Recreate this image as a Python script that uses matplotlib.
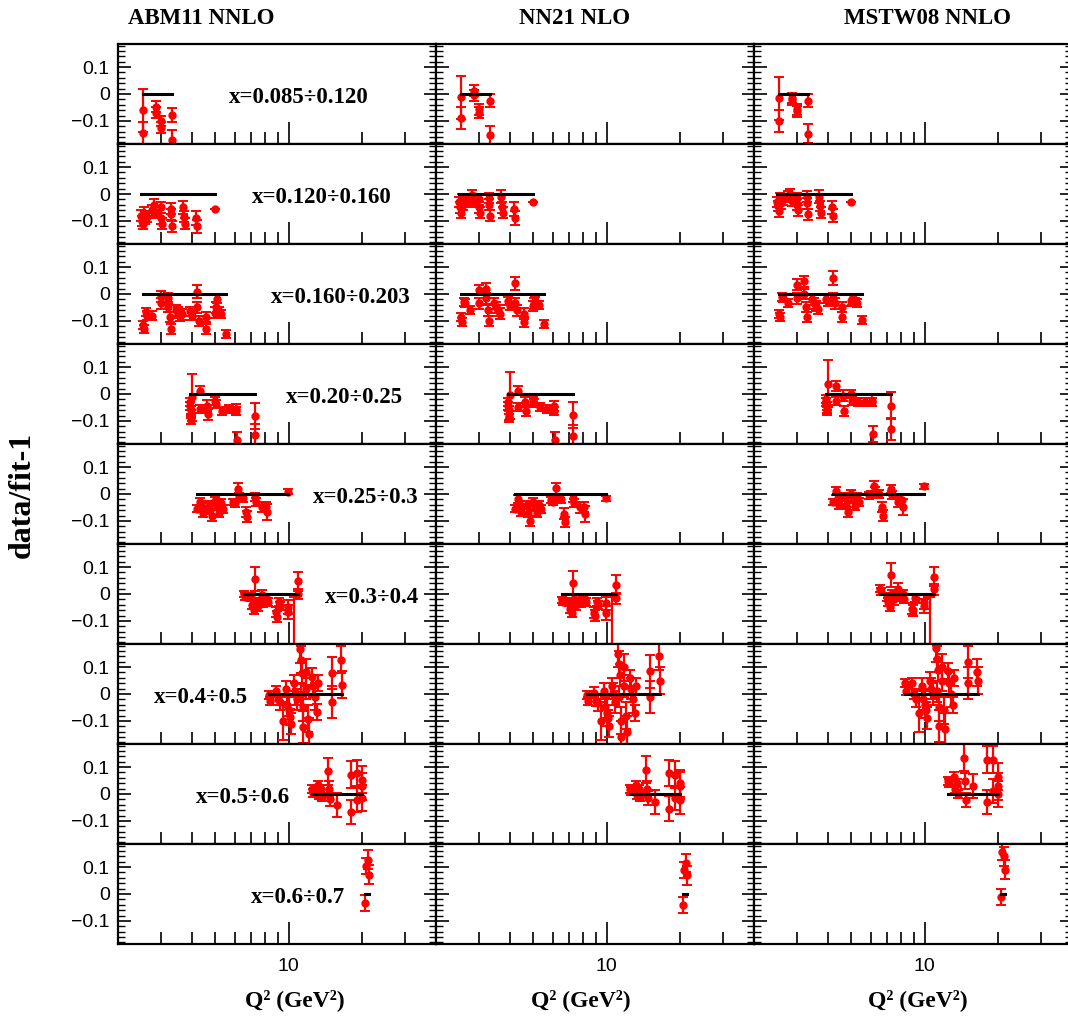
import matplotlib
matplotlib.use("Agg")
import matplotlib.pyplot as plt
from matplotlib.ticker import FixedLocator, FixedFormatter, MultipleLocator, NullFormatter


# column titles and x bins
pdf_sets = ["ABM11 NNLO", "NN21 NLO", "MSTW08 NNLO"]
x_bins = ["x=0.085÷0.120", "x=0.120÷0.160", "x=0.160÷0.203", "x=0.20÷0.25",
          "x=0.25÷0.3", "x=0.3÷0.4", "x=0.4÷0.5", "x=0.5÷0.6", "x=0.6÷0.7"]

# bin 1
q2_1 = [2.52, 2.52, 2.87, 2.87, 3.0, 3.0, 3.32, 3.32]
err_1 = [0.08, 0.04, 0.02, 0.02, 0.02, 0.02, 0.025, 0.035]
abm_1 = [-0.060, -0.145, -0.047, -0.069, -0.10, -0.125, -0.078, -0.17]
nn_1 = [-0.013, -0.09, 0.013, -0.005, -0.057, -0.069, -0.025, -0.153]
mstw_1 = [-0.015, -0.10, -0.015, -0.022, -0.057, -0.065, -0.025, -0.148]

# bin 2
q2_2 = [2.48, 2.50, 2.52, 2.55, 2.58, 2.62, 2.75, 2.80, 2.85, 2.99, 3.0, 3.02,
        3.28, 3.30, 3.34, 3.70, 3.72, 3.75, 4.18, 4.2, 4.99]
err_2 = [0.02, 0.02, 0.02, 0.02, 0.02, 0.02, 0.02, 0.02, 0.02, 0.02, 0.02, 0.02,
         0.02, 0.02, 0.02, 0.025, 0.02, 0.02, 0.025, 0.025, 0.0]
abm_2 = [-0.08, -0.10, -0.11, -0.07, -0.09, -0.085, -0.06, -0.04, -0.07, -0.05, -0.09, -0.11,
         -0.055, -0.075, -0.12, -0.05, -0.085, -0.11, -0.09, -0.12, -0.054]
nn_2 = [-0.03, -0.05, -0.07, -0.02, -0.04, -0.03, -0.02, -0.005, -0.03, -0.02, -0.05, -0.07,
        -0.015, -0.04, -0.08, -0.01, -0.05, -0.07, -0.055, -0.09, -0.03]
mstw_2 = [-0.03, -0.045, -0.065, -0.015, -0.035, -0.02, -0.01, 0.0, -0.025, -0.015, -0.04, -0.06,
          -0.01, -0.035, -0.075, -0.01, -0.045, -0.07, -0.05, -0.08, -0.03]

# bin 3
q2_3 = [2.54, 2.56, 2.60, 2.64, 2.75, 2.99, 3.0, 3.2, 3.21, 3.26, 3.3, 3.45, 3.52, 3.6,
        3.67, 3.95, 4.02, 4.19, 4.2, 4.3, 4.57, 4.6, 4.98, 5.03, 5.1, 5.2, 5.28, 5.55]
err_3 = [0.015, 0.015, 0.015, 0.015, 0.015,
         0.02, 0.02, 0.02, 0.02, 0.02, 0.02, 0.02, 0.02, 0.02, 0.02,
         0.015, 0.015, 0.025, 0.02, 0.02, 0.02, 0.02, 0.02, 0.02,
         0.015, 0.015, 0.015, 0.015]
abm_3 = [-0.117, -0.13, -0.067, -0.08, -0.08, -0.01, -0.035, -0.016, -0.048, -0.086, -0.13, -0.06, -0.07, -0.08,
         -0.075, -0.065, -0.08, 0.009, -0.05, -0.1, -0.086, -0.13, -0.07, -0.05, -0.02, -0.065, -0.075, -0.148]
nn_3 = [-0.086, -0.104, -0.03, -0.035, -0.06, 0.015, -0.035, 0.02, -0.016, -0.06, -0.1, -0.035, -0.05, -0.06,
        -0.073, -0.025, -0.045, 0.04, -0.035, -0.06, -0.073, -0.104, -0.045, -0.035, -0.025, -0.04, -0.04, -0.11]
mstw_3 = [-0.073, -0.086, -0.01, -0.016, -0.035, 0.034, -0.016, 0.047, 0.0, -0.048, -0.086, -0.02, -0.035, -0.045,
          -0.055, -0.02, -0.03, 0.06, -0.016, -0.035, -0.048, -0.086, -0.025, -0.02, -0.015, -0.03, -0.035, -0.098]

# bin 4
q2_4 = [3.93, 3.95, 3.96, 3.97, 3.98, 4.0, 4.33, 4.35, 4.62, 4.66, 5.0, 5.05, 5.31, 5.69,
        6.07, 6.1, 6.12, 7.25, 7.28]
err_4 = [0.015, 0.015, 0.015, 0.015, 0.015, 0.088, 0.018, 0.015, 0.02, 0.02, 0.015, 0.015, 0.015, 0.015,
         0.02, 0.015, 0.03, 0.05, 0.04]
abm_4 = [-0.03, -0.045, -0.06, -0.075, -0.095, -0.013, 0.013, -0.057, -0.044, -0.075, -0.025, -0.038, -0.063, -0.057,
         -0.057, -0.063, -0.17, -0.082, -0.151]
nn_4 = [-0.03, -0.045, -0.06, -0.08, -0.09, -0.005, 0.013, -0.05, -0.03, -0.063, -0.025, -0.035, -0.05, -0.057,
        -0.045, -0.063, -0.17, -0.078, -0.155]
mstw_4 = [-0.02, -0.03, -0.045, -0.055, -0.063, 0.038, 0.03, -0.025, -0.006, -0.063, 0.0, -0.025, -0.03, -0.03,
          -0.025, -0.03, -0.15, -0.044, -0.13]

# bin 5
q2_5 = [4.22, 4.35, 4.40, 4.45, 4.7, 4.75, 4.85, 5.0, 5.1, 5.2, 5.3, 5.4, 5.9, 6.0, 6.2, 6.25,
        6.5, 6.7, 6.75, 7.3, 7.35, 7.75, 8.05, 8.15, 9.94]
err_5 = [0.012, 0.015, 0.015, 0.015, 0.015, 0.015, 0.02, 0.015, 0.015, 0.015, 0.015, 0.015, 0.012, 0.012,
         0.02, 0.015, 0.015, 0.02, 0.02, 0.015, 0.015, 0.02, 0.02, 0.03, 0.01]
abm_5 = [-0.054, -0.03, -0.05, -0.07, -0.04, -0.06, -0.08, -0.025, -0.045, -0.07, -0.035, -0.055, -0.03, -0.035,
         0.02, -0.01, -0.015, -0.067, -0.085, -0.01, -0.03, -0.048, -0.048, -0.067, 0.009]
nn_5 = [-0.054, -0.02, -0.04, -0.067, -0.04, -0.07, -0.1, -0.03, -0.05, -0.07, -0.04, -0.055, -0.023, -0.03,
        0.021, -0.016, -0.02, -0.073, -0.104, -0.016, -0.035, -0.05, -0.048, -0.073, -0.016]
mstw_5 = [-0.03, 0.01, -0.015, -0.04, -0.01, -0.04, -0.067, 0.0, -0.02, -0.045, -0.01, -0.03, -0.005, 0.0,
          0.028, 0.01, 0.0, -0.048, -0.08, 0.02, -0.005, -0.03, -0.023, -0.048, 0.028]

# bin 6
q2_6 = [6.55, 6.6, 7.0, 7.1, 7.2, 7.3, 7.35, 7.5, 7.8, 7.85, 8.15, 8.2, 8.9, 8.95, 9.1, 9.2,
        9.9, 9.95, 10.5, 10.9, 10.95]
err_6 = [0.012, 0.012, 0.015, 0.015, 0.015, 0.045, 0.015, 0.02, 0.02, 0.015, 0.015, 0.015, 0.02, 0.02,
         0.015, 0.015, 0.025, 0.025, 0.29, 0.035, 0.02]
abm_6 = [0.0, -0.01, -0.01, -0.04, -0.06, 0.055, -0.03, -0.045, -0.004, -0.035, -0.02, -0.03, -0.067, -0.085,
         -0.03, -0.045, -0.048, -0.067, -0.3, 0.047, 0.0]
nn_6 = [-0.023, -0.03, -0.03, -0.055, -0.07, 0.04, -0.02, -0.04, -0.02, -0.035, -0.02, -0.03, -0.07, -0.08,
        -0.03, -0.04, -0.035, -0.07, -0.3, 0.034, -0.016]
mstw_6 = [0.02, 0.01, -0.01, -0.03, -0.05, 0.07, 0.0, -0.02, 0.02, -0.01, 0.0, -0.02, -0.054, -0.06,
          -0.015, -0.02, -0.03, -0.045, -0.3, 0.065, 0.018]

# bin 7
q2_7 = [8.3, 8.35, 8.9, 9.0, 9.2, 9.45, 9.7, 9.8, 10.0, 10.15, 10.2, 10.5, 10.6, 10.8, 11.1, 11.2, 11.25,
        11.3, 11.4, 11.45, 11.7, 11.8, 12.0, 12.1, 12.4, 12.6, 12.8, 13.0, 13.2, 15.0, 15.05, 16.4, 16.5]
err_7 = [0.015, 0.015, 0.02, 0.02, 0.03, 0.07, 0.03, 0.04, 0.05, 0.03, 0.04, 0.03, 0.04, 0.04, 0.05, 0.05, 0.04,
         0.04, 0.05, 0.06, 0.05, 0.04, 0.05, 0.06, 0.03, 0.04, 0.05, 0.03, 0.03, 0.06, 0.06, 0.05, 0.05]
abm_7 = [-0.005, -0.025, 0.01, -0.02, -0.03, -0.1, 0.02, -0.04, -0.06, -0.085, -0.11, 0.04, 0.0, -0.02, 0.166, 0.128, 0.0,
         0.078, -0.05, -0.123, 0.08, 0.02, -0.092, -0.148, 0.065, 0.03, -0.01, -0.067, 0.04, 0.078, -0.03, 0.128, 0.034]
nn_7 = [-0.005, -0.025, 0.005, -0.025, -0.035, -0.1, 0.01, -0.05, -0.07, -0.09, -0.12, 0.03, 0.0, -0.03, 0.15, 0.11, -0.01,
        0.07, -0.1, -0.16, 0.1, 0.03, -0.08, -0.14, 0.06, 0.02, -0.02, -0.07, 0.03, 0.084, -0.01, 0.14, 0.05]
mstw_7 = [0.04, 0.01, 0.04, 0.0, -0.02, -0.07, 0.03, -0.02, -0.04, -0.06, -0.09, 0.05, 0.02, 0.0, 0.17, 0.13, 0.01,
          0.09, -0.05, -0.12, 0.1, 0.05, -0.06, -0.13, 0.085, 0.04, 0.0, -0.04, 0.06, 0.12, 0.04, 0.08, 0.05]

# bin 8
q2_8 = [12.45, 12.5, 13.2, 13.3, 13.6, 13.7, 14.5, 14.6, 14.7, 15.75, 17.9, 18.0, 19.0, 19.05, 19.9, 19.95, 20.0]
err_8 = [0.015, 0.015, 0.015, 0.015, 0.015, 0.015, 0.05, 0.03, 0.025, 0.045, 0.05, 0.045, 0.05, 0.045, 0.05, 0.05, 0.05]
abm_8 = [0.02, 0.005, 0.035, -0.005, 0.02, -0.01, 0.084, 0.02, -0.02, -0.042, 0.072, -0.067, 0.078, -0.023, 0.053, 0.028, -0.015]
nn_8 = [0.02, 0.01, 0.035, -0.005, 0.02, -0.01, 0.09, 0.02, -0.015, -0.03, 0.078, -0.054, 0.072, -0.016, 0.04, 0.03, -0.023]
mstw_8 = [0.05, 0.04, 0.065, 0.02, 0.04, 0.0, 0.135, 0.047, -0.023, 0.03, 0.128, -0.03, 0.128, 0.01, 0.065, 0.028, 0.0]

# bin 9
q2_9 = [20.5, 20.6, 21.1, 21.2]
err_9 = [0.03, 0.03, 0.035, 0.035]
abm_9 = [-0.035, 0.103, 0.128, 0.072]
nn_9 = [-0.04, 0.09, 0.115, 0.07]
mstw_9 = [-0.01, 0.155, 0.14, 0.09]

q2_bins = [q2_1, q2_2, q2_3, q2_4, q2_5, q2_6, q2_7, q2_8, q2_9]
err_bins = [err_1, err_2, err_3, err_4, err_5, err_6, err_7, err_8, err_9]
ratios = [
    [abm_1, abm_2, abm_3, abm_4, abm_5, abm_6, abm_7, abm_8, abm_9],
    [nn_1, nn_2, nn_3, nn_4, nn_5, nn_6, nn_7, nn_8, nn_9],
    [mstw_1, mstw_2, mstw_3, mstw_4, mstw_5, mstw_6, mstw_7, mstw_8, mstw_9],
]

# where the bin labels sit (Q2 position in the left column)
label_q2 = [11.0, 13.6, 16.3, 16.9, 20.6, 21.8, 4.37, 6.49, 10.9]

serif = "Liberation Serif"
sans = "Liberation Sans"

W, H = 1068, 1028
fig = plt.figure(figsize=(W / 100, H / 100), dpi=100)

col_left = [118, 436, 754]
col_w = 318
row_top = 44
row_h = 100

for c in range(3):
    for r in range(9):
        y0 = row_top + r * row_h
        ax = fig.add_axes([col_left[c] / W, 1 - (y0 + row_h) / H, col_w / W, row_h / H])
        ax.set_xscale("log")
        ax.set_xlim(2, 40)
        ax.set_ylim(-0.186, 0.186)

        ax.errorbar(q2_bins[r], ratios[c][r], yerr=err_bins[r], fmt="o", color="red",
                    markersize=5, elinewidth=1.6, capsize=3.5, capthick=1.4, zorder=2)
        ax.plot([min(q2_bins[r]), max(q2_bins[r])], [0, 0], color="black", lw=2.2, zorder=3)

        for s in ax.spines.values():
            s.set_linewidth(1.6)

        ax.xaxis.set_major_locator(FixedLocator([10]))
        ax.xaxis.set_minor_locator(FixedLocator([3, 4, 5, 6, 7, 8, 9, 20, 30]))
        ax.xaxis.set_minor_formatter(NullFormatter())
        ax.yaxis.set_major_locator(FixedLocator([-0.1, 0, 0.1]))
        ax.yaxis.set_minor_locator(MultipleLocator(0.02))

        ax.tick_params(axis="x", which="major", direction="in", length=16, width=1.2, top=False)
        ax.tick_params(axis="x", which="minor", direction="in", length=8.5, width=1.2, top=False)
        ax.tick_params(axis="y", which="major", direction="in", length=9, width=1.2, left=True, right=True)
        ax.tick_params(axis="y", which="minor", direction="in", length=5, width=1.0, left=True, right=True)

        if r == 8:
            ax.xaxis.set_major_formatter(FixedFormatter(["10"]))
            ax.tick_params(axis="x", which="major", labelsize=14, pad=10)
            for t in ax.get_xticklabels():
                t.set_fontfamily(sans)
        else:
            ax.tick_params(axis="x", labelbottom=False)

        if c == 0:
            ax.yaxis.set_major_formatter(FixedFormatter(["\u22120.1", "0", "0.1"]))
            ax.tick_params(axis="y", which="major", labelsize=14, pad=6)
            for t in ax.get_yticklabels():
                t.set_fontfamily(sans)
            ax.text(label_q2[r], -0.012, x_bins[r], ha="center", va="center",
                    fontsize=16.5, fontweight="bold", family=serif)
        else:
            ax.tick_params(axis="y", labelleft=False)

# column titles
title_x = [201, 575, 928]
for c in range(3):
    fig.text(title_x[c] / W, 1 - 18 / H, pdf_sets[c], ha="center", va="center",
             fontsize=16.5, fontweight="bold", family=serif)

# axis titles
xlab_x = [295, 581, 918]
for c in range(3):
    fig.text(xlab_x[c] / W, 1 - 1000 / H, "Q² (GeV²)", ha="center", va="center",
             fontsize=17, fontweight="bold", family=serif)

fig.text(22 / W, 1 - 495 / H, "data/fit-1", rotation=90, ha="center", va="center",
         fontsize=23, fontweight="bold", family=serif)

fig.savefig("out.png", dpi=100)
